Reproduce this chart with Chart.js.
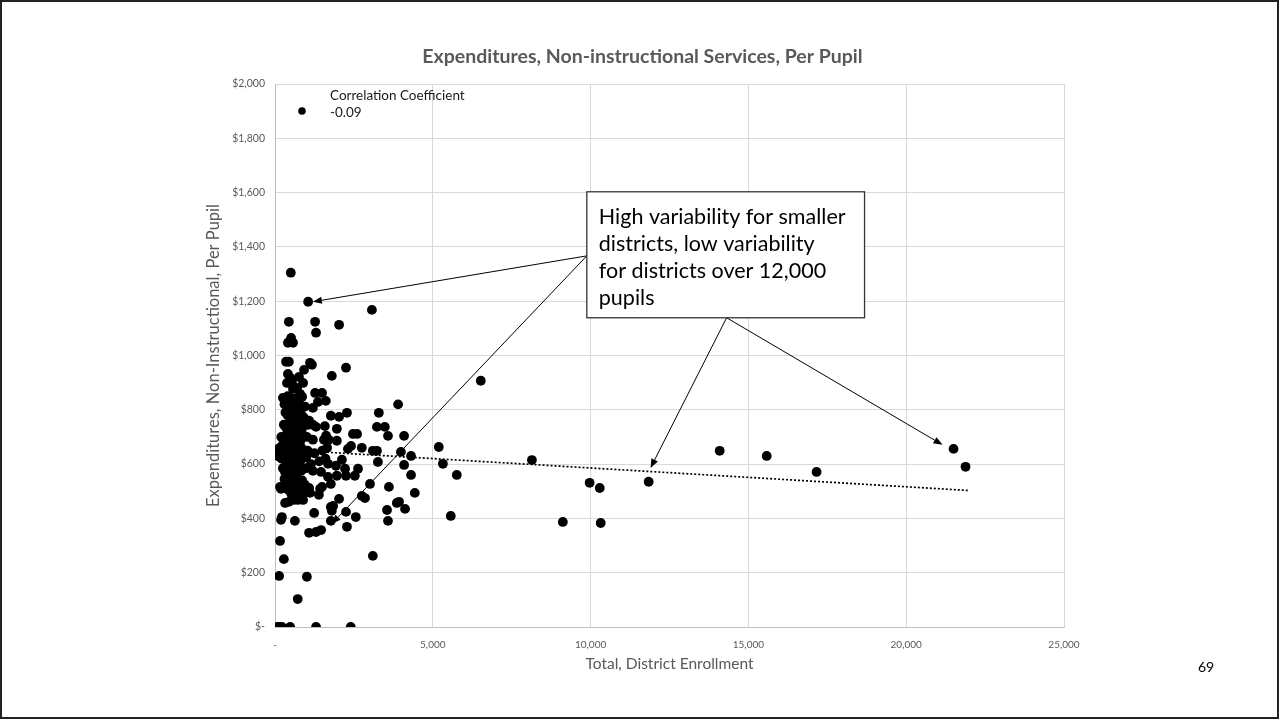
<!DOCTYPE html>
<html>
<head>
<meta charset="utf-8">
<title>Expenditures, Non-instructional Services, Per Pupil</title>
<script src="https://cdn.jsdelivr.net/npm/chart.js@4.4.1/dist/chart.umd.min.js"></script>
<style>
  html, body { margin: 0; padding: 0; background: #fff; }
  #slide { position: relative; width: 1279px; height: 719px; overflow: hidden; background: #fff; }
  #chart { position: absolute; left: 0; top: 0; }
  #page { position: absolute; left: 1198px; top: 658px; font: 14px Lato, "Open Sans", sans-serif; color: #000; }
  #frame { position: absolute; left: 0; top: 0; width: 1279px; height: 719px; box-sizing: border-box;
           border: 2px solid #222; pointer-events: none; }
</style>
</head>
<body>
<div id="slide">
  <canvas id="chart" width="1279" height="719"></canvas>
  <div id="page">69</div>
  <div id="frame"></div>
</div>
<script>
// District enrollment (x) and non-instructional spending per pupil (y), parallel arrays.
const enrollment = [
  // larger / more spread-out districts
  500,1050,3070,440,1270,2030,1300,510,410,570,
  350,440,1110,1170,2250,920,1800,410,480,760,
  380,540,890,6520,570,700,790,1270,1490,250,
  1360,1610,1200,3900,1770,2030,2280,3290,3230,3480,
  3580,1960,1200,1300,2470,2600,4090,1960,2310,2410,
  2750,3100,3230,3990,4310,4090,3260,2120,1930,2220,
  2630,2530,2250,1960,4310,3010,3610,2750,2850,2030,
  1840,1770,1800,2250,2560,4120,3550,3580,3860,3930,
  4430,2280,1770,1680,1680,1770,3100,2400,5190,5320,
  5760,5570,8140,9120,9970,10290,10320,11840,14090,15580,
  17160,21500,21880,
  // 1,000 - 1,700 pupils
  1460,1430,1490,1390,1460,1300,1080,1240,1580,1620,
  1550,1500,1600,1400,1650,1700,
  // small districts, low spending
  60,130,320,160,190,320,440,600,730,890,
  540,630,1080,1110,130,1010,720,160,280,190,
  220,630,60,120,220,480,1300,
  // small districts, main cluster
  400,480,560,650,760,860,
  300,380,450,520,600,680,740,820,950,
  330,400,460,530,590,650,710,780,850,920,1080,
  280,350,420,480,540,600,660,720,780,840,900,1050,
  200,300,370,430,500,560,620,680,740,800,870,1010,1200,
  150,250,330,390,450,520,580,640,700,760,830,900,1030,1250,
  220,300,360,420,480,540,600,660,720,790,850,990,1140,
  250,320,390,450,510,570,630,700,760,830,980,1200,
  300,370,440,500,570,640,710,780,860,940,
  420,520,680,770,850,940
];
const perPupil = [
  1305,1198,1168,1124,1124,1113,1084,1065,1047,1047,
  977,977,973,966,955,947,925,932,918,921,
  899,899,899,907,877,881,859,862,862,844,
  829,833,807,820,778,774,789,789,737,737,
  704,730,745,737,711,711,704,686,656,667,
  660,649,649,645,630,597,608,616,594,583,
  583,557,557,557,560,527,516,483,475,472,
  446,442,428,424,405,435,431,391,457,461,
  494,369,391,601,553,527,262,0,663,601,
  560,409,615,387,531,512,383,535,649,630,
  571,656,590,
  571,509,516,487,357,350,347,420,740,705,
  690,650,620,610,660,690,
  634,627,641,516,509,457,461,468,468,468,
  498,523,512,494,188,185,103,317,250,395,
  405,391,0,0,0,0,0,
  850,845,838,842,835,848,
  820,815,808,825,812,800,818,805,812,
  790,780,795,770,785,775,790,765,780,770,760,
  745,735,750,728,742,725,750,735,745,722,740,745,
  700,690,710,695,705,685,712,690,700,684,705,700,690,
  660,672,650,665,645,670,655,640,668,650,660,645,650,640,
  620,632,610,625,605,630,615,600,628,610,620,625,600,
  585,570,595,575,590,565,580,570,590,575,585,575,
  545,530,555,535,550,525,545,530,540,525,
  505,490,500,485,505,495
];

// Linear trend line end points
const trendEnrollment = [0, 21950];
const trendPerPupil = [655, 503];

// Axis ranges and tick steps
const xRange = [0, 25000], xStep = 5000;
const yRange = [0, 2000], yStep = 200;

const chartTitle = 'Expenditures, Non-instructional Services, Per Pupil';
const xTitle = 'Total, District Enrollment';
const yTitle = 'Expenditures, Non-Instructional, Per Pupil';
const legendLines = ['Correlation Coefficient', '-0.09'];
const calloutLines = ['High variability for smaller', 'districts, low variability',
                      'for districts over 12,000', 'pupils'];

// Callout box corners and arrows, in data units (enrollment, $ per pupil)
const calloutBox = { x1: 9880, x2: 18680, yTop: 1603, yBottom: 1139 };
const calloutArrows = [
  { from: [9880, 1367], to: [1200, 1198] },
  { from: [9880, 1367], to: [1800, 380] },
  { from: [14310, 1139], to: [11900, 586] },
  { from: [14310, 1139], to: [21150, 671] }
];

const FONT = 'Lato, "Open Sans", sans-serif';
const GREY = '#595959';

const points = enrollment.map((x, i) => ({ x, y: perPupil[i] }));
const trend = trendEnrollment.map((x, i) => ({ x, y: trendPerPupil[i] }));

function arrow(ctx, x0, y0, x1, y1) {
  const a = Math.atan2(y1 - y0, x1 - x0);
  const len = 9, half = 3.6;
  const bx = x1 - len * Math.cos(a), by = y1 - len * Math.sin(a);
  ctx.beginPath();
  ctx.moveTo(x0, y0);
  ctx.lineTo(bx, by);
  ctx.stroke();
  ctx.beginPath();
  ctx.moveTo(x1, y1);
  ctx.lineTo(bx + half * Math.sin(a), by - half * Math.cos(a));
  ctx.lineTo(bx - half * Math.sin(a), by + half * Math.cos(a));
  ctx.closePath();
  ctx.fill();
}

// Legend, callout box and arrows drawn over the plot
const overlay = {
  id: 'overlay',
  afterDraw(chart) {
    const { ctx, chartArea: ca, scales: { x, y } } = chart;
    ctx.save();
    // legend
    ctx.fillStyle = '#000';
    ctx.beginPath();
    ctx.arc(ca.left + 27, ca.top + 27, 3.8, 0, Math.PI * 2);
    ctx.fill();
    ctx.fillStyle = '#1a1a1a';
    ctx.font = '13.5px ' + FONT;
    ctx.textBaseline = 'middle';
    ctx.textAlign = 'left';
    ctx.fillText(legendLines[0], ca.left + 55, ca.top + 12);
    ctx.fillText(legendLines[1], ca.left + 55, ca.top + 29);

    // arrows
    ctx.strokeStyle = '#000';
    ctx.fillStyle = '#000';
    ctx.lineWidth = 1;
    calloutArrows.forEach(a => {
      arrow(ctx, x.getPixelForValue(a.from[0]), y.getPixelForValue(a.from[1]),
                 x.getPixelForValue(a.to[0]), y.getPixelForValue(a.to[1]));
    });

    // callout box
    const bx1 = x.getPixelForValue(calloutBox.x1), bx2 = x.getPixelForValue(calloutBox.x2);
    const by1 = y.getPixelForValue(calloutBox.yTop), by2 = y.getPixelForValue(calloutBox.yBottom);
    ctx.fillStyle = '#fff';
    ctx.fillRect(bx1, by1, bx2 - bx1, by2 - by1);
    ctx.strokeStyle = '#333';
    ctx.lineWidth = 1.3;
    ctx.strokeRect(bx1, by1, bx2 - bx1, by2 - by1);
    ctx.fillStyle = '#000';
    ctx.font = '21.5px ' + FONT;
    calloutLines.forEach((t, i) => ctx.fillText(t, bx1 + 12, by1 + 25 + i * 27));
    ctx.restore();
  }
};

new Chart(document.getElementById('chart'), {
  type: 'scatter',
  data: {
    datasets: [
      {
        label: legendLines.join(' '),
        data: points,
        backgroundColor: '#000',
        borderWidth: 0,
        pointRadius: 4.9,
        pointHoverRadius: 4.9,
        order: 1
      },
      {
        type: 'line',
        label: 'Linear trend',
        data: trend,
        borderColor: '#000',
        borderWidth: 1.7,
        borderDash: [2, 2],
        pointRadius: 0,
        fill: false,
        order: 0
      }
    ]
  },
  options: {
    responsive: false,
    animation: false,
    devicePixelRatio: 1,
    layout: { padding: { left: 221, right: 215, top: 0, bottom: 46 } },
    plugins: {
      legend: { display: false },
      tooltip: { enabled: false },
      title: {
        display: true,
        text: chartTitle,
        color: GREY,
        font: { family: FONT, size: 19.5, weight: 'bold', lineHeight: 1.2 },
        padding: { top: 45, bottom: 15.6 }
      }
    },
    scales: {
      x: {
        type: 'linear',
        min: xRange[0], max: xRange[1],
        ticks: {
          stepSize: xStep, color: GREY, padding: 12, maxRotation: 0,
          font: { family: FONT, size: 10 },
          callback: v => v === 0 ? '-' : v.toLocaleString('en-US')
        },
        grid: { color: '#d9d9d9', drawTicks: false },
        border: { color: '#bfbfbf' },
        title: {
          display: true, text: xTitle, color: GREY,
          font: { family: FONT, size: 15.5, lineHeight: 1.2 },
          padding: { top: 0, bottom: 0 }
        },
        afterFit(s) { s.height = 46; }
      },
      y: {
        type: 'linear',
        min: yRange[0], max: yRange[1],
        ticks: {
          stepSize: yStep, color: GREY, padding: 10,
          font: { family: FONT, size: 10.5 },
          callback: v => v === 0 ? '$-' : '$' + v.toLocaleString('en-US')
        },
        grid: { color: '#d9d9d9', drawTicks: false },
        border: { color: '#bfbfbf' },
        title: {
          display: true, text: yTitle, color: GREY,
          font: { family: FONT, size: 16.5, lineHeight: 1.2 },
          padding: { top: -16.9, bottom: 0 }
        },
        afterFit(s) { s.width = 54; }
      }
    }
  },
  plugins: [overlay]
});
</script>
</body>
</html>
